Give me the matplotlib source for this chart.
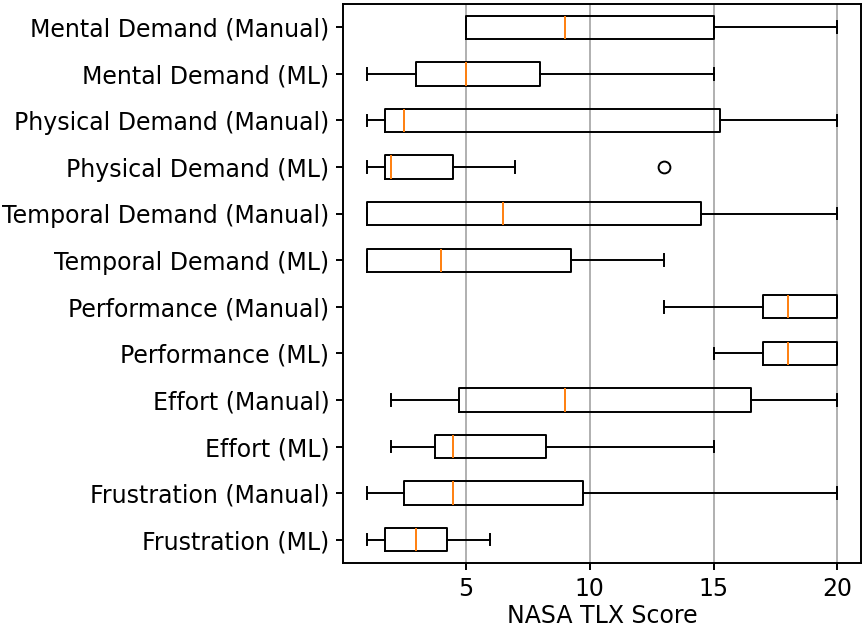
import matplotlib
matplotlib.use("Agg")
import matplotlib.pyplot as plt

# top-to-bottom order as shown in the chart
labels = [
    "Mental Demand (Manual)", "Mental Demand (ML)",
    "Physical Demand (Manual)", "Physical Demand (ML)",
    "Temporal Demand (Manual)", "Temporal Demand (ML)",
    "Performance (Manual)", "Performance (ML)",
    "Effort (Manual)", "Effort (ML)",
    "Frustration (Manual)", "Frustration (ML)",
]
whislo = [5, 1, 1, 1, 1, 1, 13, 15, 2, 2, 1, 1]
q1 = [5, 3, 1.75, 1.75, 1, 1, 17, 17, 4.75, 3.75, 2.5, 1.75]
med = [9, 5, 2.5, 2, 6.5, 4, 18, 18, 9, 4.5, 4.5, 3]
q3 = [15, 8, 15.25, 4.5, 14.5, 9.25, 20, 20, 16.5, 8.25, 9.75, 4.25]
whishi = [20, 15, 20, 7, 20, 13, 20, 20, 20, 15, 20, 6]
fliers = [[], [], [], [13], [], [], [], [], [], [], [], []]

stats = []
for i in range(len(labels)):
    stats.append(dict(label=labels[i], whislo=whislo[i], q1=q1[i], med=med[i],
                      q3=q3[i], whishi=whishi[i], fliers=fliers[i]))
stats = stats[::-1]  # bxp puts first item at the bottom

lw = 1.4
fig, ax = plt.subplots(figsize=(8.64, 6.29), dpi=100)
fig.subplots_adjust(left=0.397, right=0.9965, top=0.9936, bottom=0.105)

ax.bxp(stats, orientation="horizontal", widths=0.5,
       flierprops=dict(marker="o", markersize=8.5, markerfacecolor="none", markeredgewidth=lw),
       boxprops=dict(linewidth=lw), whiskerprops=dict(linewidth=lw),
       capprops=dict(linewidth=lw), medianprops=dict(color="C1", linewidth=lw))
ax.set_xticks([5, 10, 15, 20])
ax.set_xlim(0.05, 20.95)
ax.xaxis.grid(True, linewidth=lw)
for s in ax.spines.values():
    s.set_linewidth(lw)
ax.tick_params(labelsize=17, length=4.9, width=lw, pad=4.9)
ax.set_xlabel("NASA TLX Score", fontsize=17, labelpad=2.5)

fig.savefig("out.png", dpi=100)
